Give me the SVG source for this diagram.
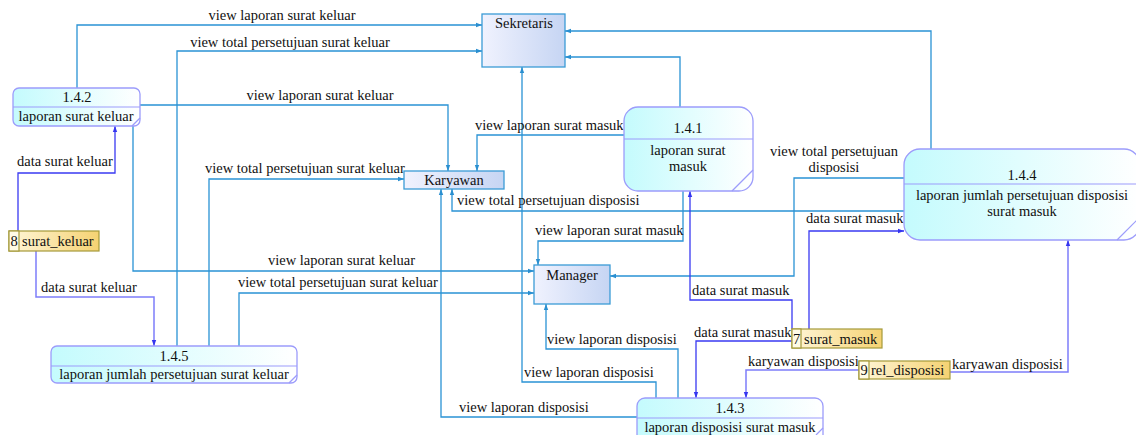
<svg xmlns="http://www.w3.org/2000/svg" width="1136" height="435" viewBox="0 0 1136 435" font-family="'Liberation Serif', 'DejaVu Serif', serif">
  <defs>
    <linearGradient id="gProc" x1="0" y1="0" x2="1" y2="0">
      <stop offset="0" stop-color="#c4fbfd"/>
      <stop offset="1" stop-color="#ffffff"/>
    </linearGradient>
    <linearGradient id="gEnt" x1="0" y1="0" x2="1" y2="0">
      <stop offset="0" stop-color="#f0f2fe"/>
      <stop offset="1" stop-color="#c6d5f3"/>
    </linearGradient>
    <linearGradient id="gStore" x1="0" y1="0" x2="1" y2="0">
      <stop offset="0" stop-color="#fff6d8"/>
      <stop offset="1" stop-color="#f5d272"/>
    </linearGradient>
    <marker id="aFlow" markerWidth="6" markerHeight="6" refX="6" refY="3" orient="auto" markerUnits="userSpaceOnUse">
      <path d="M0,0.8 L6,3 L0,5.2 z" fill="#2a8fd0"/>
    </marker>
    <marker id="aData" markerWidth="6" markerHeight="6" refX="6" refY="3" orient="auto" markerUnits="userSpaceOnUse">
      <path d="M0,0.8 L6,3 L0,5.2 z" fill="#3535f0"/>
    </marker>
  </defs>
  <style>
    text { font-family: 'Liberation Serif', 'DejaVu Serif', serif; font-size: 14.5px; fill: #111; }
    .c { text-anchor: middle; }
    .flow { fill: none; stroke: #2a93d5; stroke-width: 1.3; marker-end: url(#aFlow); }
    .data { fill: none; stroke: #3a3af2; stroke-width: 1.3; marker-end: url(#aData); }
    .data2 { fill: none; stroke: #7d7dfa; stroke-width: 1.5; marker-end: url(#aData); }
    .proc { fill: url(#gProc); stroke: #9c9cfb; stroke-width: 1.3; }
    .procline { stroke: #9c9cfb; stroke-width: 1.2; }
    .ent { fill: url(#gEnt); stroke: #3b9bd6; stroke-width: 1.3; }
    .store { fill: url(#gStore); stroke: #a59a3a; stroke-width: 1.2; }
    .storeNum { fill: #fffbe6; stroke: #a59a3a; stroke-width: 1.2; }
  </style>

  <!-- connectors -->
  <g id="connectors">
    <path class="flow" d="M77,88 V25 H482"/>
    <path class="flow" d="M177,346 V51 H482"/>
    <path class="flow" d="M931,149 V31 H565"/>
    <path class="flow" d="M680,107 V57 H565"/>
    <path class="flow" d="M656,398 V382 H522 V67"/>
    <path class="flow" d="M140,105 H448 V171"/>
    <path class="flow" d="M624,135 H477 V171"/>
    <path class="flow" d="M209,346 V179 H404"/>
    <path class="flow" d="M637,417 H441 V189"/>
    <path class="flow" d="M904,211 H452 V189"/>
    <path class="flow" d="M133,126 V271 H534"/>
    <path class="flow" d="M239,346 V293 H534"/>
    <path class="flow" d="M683,191 V241 H538 V265"/>
    <path class="flow" d="M904,178 H794 V276 H610"/>
    <path class="flow" d="M678,398 V349 H546 V304"/>
    <path class="data" d="M18,231 V173 H115 V126"/>
    <path class="data2" d="M36,251 V297 H154 V346"/>
    <path class="data" d="M792,329 V300 H690 V191"/>
    <path class="data" d="M809,329 V231 H904"/>
    <path class="data" d="M792,341 H696 V398"/>
    <path class="data2" d="M859,370 H746 V398"/>
    <path class="data2" d="M950,372 H1068 V240"/>

    <text x="282" y="20" class="c">view laporan surat keluar</text>
    <text x="290" y="47" class="c">view total persetujuan surat keluar</text>
    <text x="524" y="377">view laporan disposisi</text>
    <text x="320" y="100" class="c">view laporan surat keluar</text>
    <text x="475" y="130">view laporan surat masuk</text>
    <text x="205" y="173">view total persetujuan surat keluar</text>
    <text x="459" y="412">view laporan disposisi</text>
    <text x="457" y="205">view total persetujuan disposisi</text>
    <text x="268" y="265">view laporan surat keluar</text>
    <text x="238" y="287">view total persetujuan surat keluar</text>
    <text x="535" y="235">view laporan surat masuk</text>
    <text x="834" y="156" class="c">view total persetujuan</text>
    <text x="834" y="172" class="c">disposisi</text>
    <text x="547" y="344">view laporan disposisi</text>
    <text x="17" y="166">data surat keluar</text>
    <text x="41" y="292">data surat keluar</text>
    <text x="692" y="295">data surat masuk</text>
    <text x="806" y="223">data surat masuk</text>
    <text x="694" y="337">data surat masuk</text>
    <text x="748" y="366">karyawan disposisi</text>
    <text x="952" y="369">karyawan disposisi</text>
  </g>

  <!-- external entities -->
  <g id="sekretaris">
    <rect class="ent" x="482" y="14" width="83" height="53"/>
    <text x="524" y="28" class="c">Sekretaris</text>
  </g>
  <g id="karyawan">
    <rect class="ent" x="404" y="171" width="100" height="18"/>
    <text x="454" y="185" class="c">Karyawan</text>
  </g>
  <g id="manager">
    <rect class="ent" x="534" y="265" width="76" height="39"/>
    <text x="572" y="280" class="c">Manager</text>
  </g>

  <!-- processes -->
  <g id="p142">
    <rect class="proc" x="13" y="88" width="127" height="38" rx="6"/>
    <line class="procline" x1="13" y1="107" x2="140" y2="107"/>
    <line class="procline" x1="132" y1="126" x2="140" y2="118"/>
    <text x="77" y="102" class="c">1.4.2</text>
    <text x="76" y="121" class="c">laporan surat keluar</text>
  </g>
  <g id="p145">
    <rect class="proc" x="51" y="346" width="246" height="37" rx="6"/>
    <line class="procline" x1="51" y1="366" x2="297" y2="366"/>
    <line class="procline" x1="289" y1="383" x2="297" y2="375"/>
    <text x="174" y="361" class="c">1.4.5</text>
    <text x="174" y="379" class="c">laporan jumlah persetujuan surat keluar</text>
  </g>
  <g id="p141">
    <rect class="proc" x="624" y="107" width="129" height="84" rx="14"/>
    <line class="procline" x1="624" y1="139" x2="753" y2="139"/>
    <line class="procline" x1="732" y1="191" x2="753" y2="170"/>
    <text x="688" y="133" class="c">1.4.1</text>
    <text x="688" y="155" class="c">laporan surat</text>
    <text x="688" y="171" class="c">masuk</text>
  </g>
  <g id="p144">
    <rect class="proc" x="904" y="149" width="236" height="91" rx="16"/>
    <line class="procline" x1="904" y1="184" x2="1140" y2="184"/>
    <line class="procline" x1="1117" y1="240" x2="1140" y2="217"/>
    <text x="1022" y="180" class="c">1.4.4</text>
    <text x="1022" y="200" class="c">laporan jumlah persetujuan disposisi</text>
    <text x="1022" y="216" class="c">surat masuk</text>
  </g>
  <g id="p143">
    <rect class="proc" x="637" y="398" width="186" height="45" rx="8"/>
    <line class="procline" x1="637" y1="418" x2="823" y2="418"/>
    <line class="procline" x1="816" y1="435" x2="823" y2="428"/>
    <text x="730" y="413" class="c">1.4.3</text>
    <text x="730" y="432" class="c">laporan disposisi surat masuk</text>
  </g>

  <!-- data stores -->
  <g id="ds8">
    <rect class="store" x="9" y="231" width="90" height="20"/>
    <rect class="storeNum" x="9" y="231" width="10" height="20"/>
    <text x="14" y="246" class="c">8</text>
    <text x="22" y="246">surat_keluar</text>
  </g>
  <g id="ds7">
    <rect class="store" x="792" y="329" width="90" height="19"/>
    <rect class="storeNum" x="792" y="329" width="9" height="19"/>
    <text x="796.5" y="344" class="c">7</text>
    <text x="804" y="344">surat_masuk</text>
  </g>
  <g id="ds9">
    <rect class="store" x="859" y="361" width="91" height="18"/>
    <rect class="storeNum" x="859" y="361" width="10" height="18"/>
    <text x="864" y="375" class="c">9</text>
    <text x="871" y="375">rel_disposisi</text>
  </g>
</svg>
